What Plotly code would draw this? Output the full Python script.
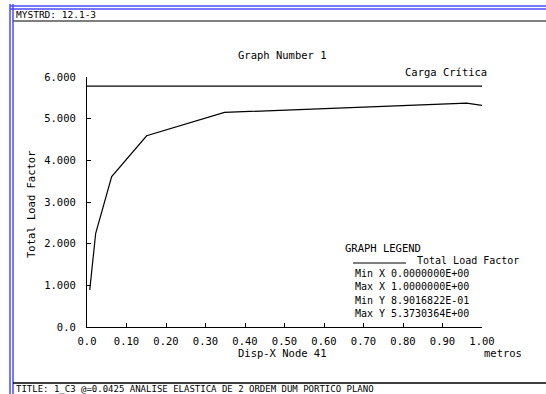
import plotly.graph_objects as go

# ---- data ----
disp_x = [0.007, 0.022, 0.0625, 0.151, 0.348, 0.961, 1.0]
load_factor = [0.890, 2.25, 3.61, 4.59, 5.15, 5.373, 5.32]
critical_x = [0.0, 1.0]
critical_load = [5.78, 5.78]

y_tickvals = [0, 1, 2, 3, 4, 5, 6]
y_ticktext = ["0.0", "1.000", "2.000", "3.000", "4.000", "5.000", "6.000"]
x_tickvals = [0.0, 0.1, 0.2, 0.3, 0.4, 0.5, 0.6, 0.7, 0.8, 0.9, 1.0]
x_ticktext = ["0.0", "0.10", "0.20", "0.30", "0.40", "0.50", "0.60", "0.70", "0.80", "0.90", "1.00"]

legend_rows = [("Min X", "0.0000000E+00"), ("Max X", "1.0000000E+00"),
               ("Min Y", "8.9016822E-01"), ("Max Y", "5.3730364E+00")]

W, H = 546, 394
L, R, T, B = 87, 482, 77, 327
FONT = "DejaVu Sans Mono"
FS = 10.5


def px(x):
    return (x - L) / (R - L)


def py(y):
    return (B - y) / (B - T)


fig = go.Figure()
fig.add_trace(go.Scatter(x=critical_x, y=critical_load, mode="lines",
                         line=dict(color="black", width=1.2), showlegend=False))
fig.add_trace(go.Scatter(x=disp_x, y=load_factor, mode="lines",
                         line=dict(color="black", width=1.2), showlegend=False))

shapes = []
blue = "#4a4aff"
# frame lines
for yy in (6, 9):
    shapes.append(dict(type="line", xref="paper", yref="paper", x0=px(10), x1=px(546),
                       y0=py(yy), y1=py(yy), line=dict(color=blue, width=1.5)))
for xx in (10, 13):
    shapes.append(dict(type="line", xref="paper", yref="paper", x0=px(xx), x1=px(xx),
                       y0=py(4), y1=py(394), line=dict(color=blue, width=1.5)))
shapes.append(dict(type="line", xref="paper", yref="paper", x0=px(13), x1=px(546),
                   y0=py(21), y1=py(21), line=dict(color="#555555", width=1.5)))
shapes.append(dict(type="line", xref="paper", yref="paper", x0=px(13), x1=px(546),
                   y0=py(383), y1=py(383), line=dict(color="black", width=1.5)))
# legend sample line
shapes.append(dict(type="line", xref="paper", yref="paper", x0=px(353), x1=px(406),
                   y0=py(263), y1=py(263), line=dict(color="black", width=1)))

ann = []


def text(x, y, s, anchor="left", angle=0, size=FS):
    ann.append(dict(x=px(x), y=py(y), xref="paper", yref="paper", text=s, showarrow=False,
                    xanchor=anchor, yanchor="middle", textangle=angle,
                    font=dict(family=FONT, size=size, color="black")))


text(14, 14, "MYSTRD: 12.1-3", size=9.5)
text(282, 55, "Graph Number 1", "center")
text(446, 72, "Carga Crítica", "center")
text(31, 205, "Total Load Factor", "center", angle=-90)
text(282, 353, "Disp-X Node 41", "center")
text(503, 353, "metros", "center")
text(343, 248, "GRAPH LEGEND")
text(415, 260.5, "Total Load Factor", size=10)
for i, (lab, val) in enumerate(legend_rows):
    yy = 273.5 + i * 13.3
    text(353, yy, lab, size=10)
    text(389, yy, val, size=10)
text(14, 389, "TITLE: 1_C3 @=0.0425 ANALISE ELASTICA DE 2 ORDEM DUM PORTICO PLANO", size=9)

fig.update_layout(
    width=W, height=H,
    margin=dict(l=L, r=W - R, t=T, b=H - B, pad=0),
    paper_bgcolor="white", plot_bgcolor="white",
    shapes=shapes, annotations=ann, showlegend=False,
    font=dict(family=FONT, size=FS, color="black"),
)
fig.update_xaxes(range=[0, 1], tickvals=x_tickvals, ticktext=x_ticktext, ticks="inside",
                 ticklen=4, tickcolor="black", showline=True, linecolor="black", linewidth=1.2,
                 showgrid=False, zeroline=False, ticklabelstandoff=4,
                 tickfont=dict(family=FONT, size=FS, color="black"))
fig.update_yaxes(range=[0, 6], tickvals=y_tickvals, ticktext=y_ticktext, ticks="inside",
                 ticklen=4, tickcolor="black", showline=True, linecolor="black", linewidth=1.2,
                 showgrid=False, zeroline=False, ticklabelstandoff=8,
                 tickfont=dict(family=FONT, size=FS, color="black"))

fig.write_html("out.html")
